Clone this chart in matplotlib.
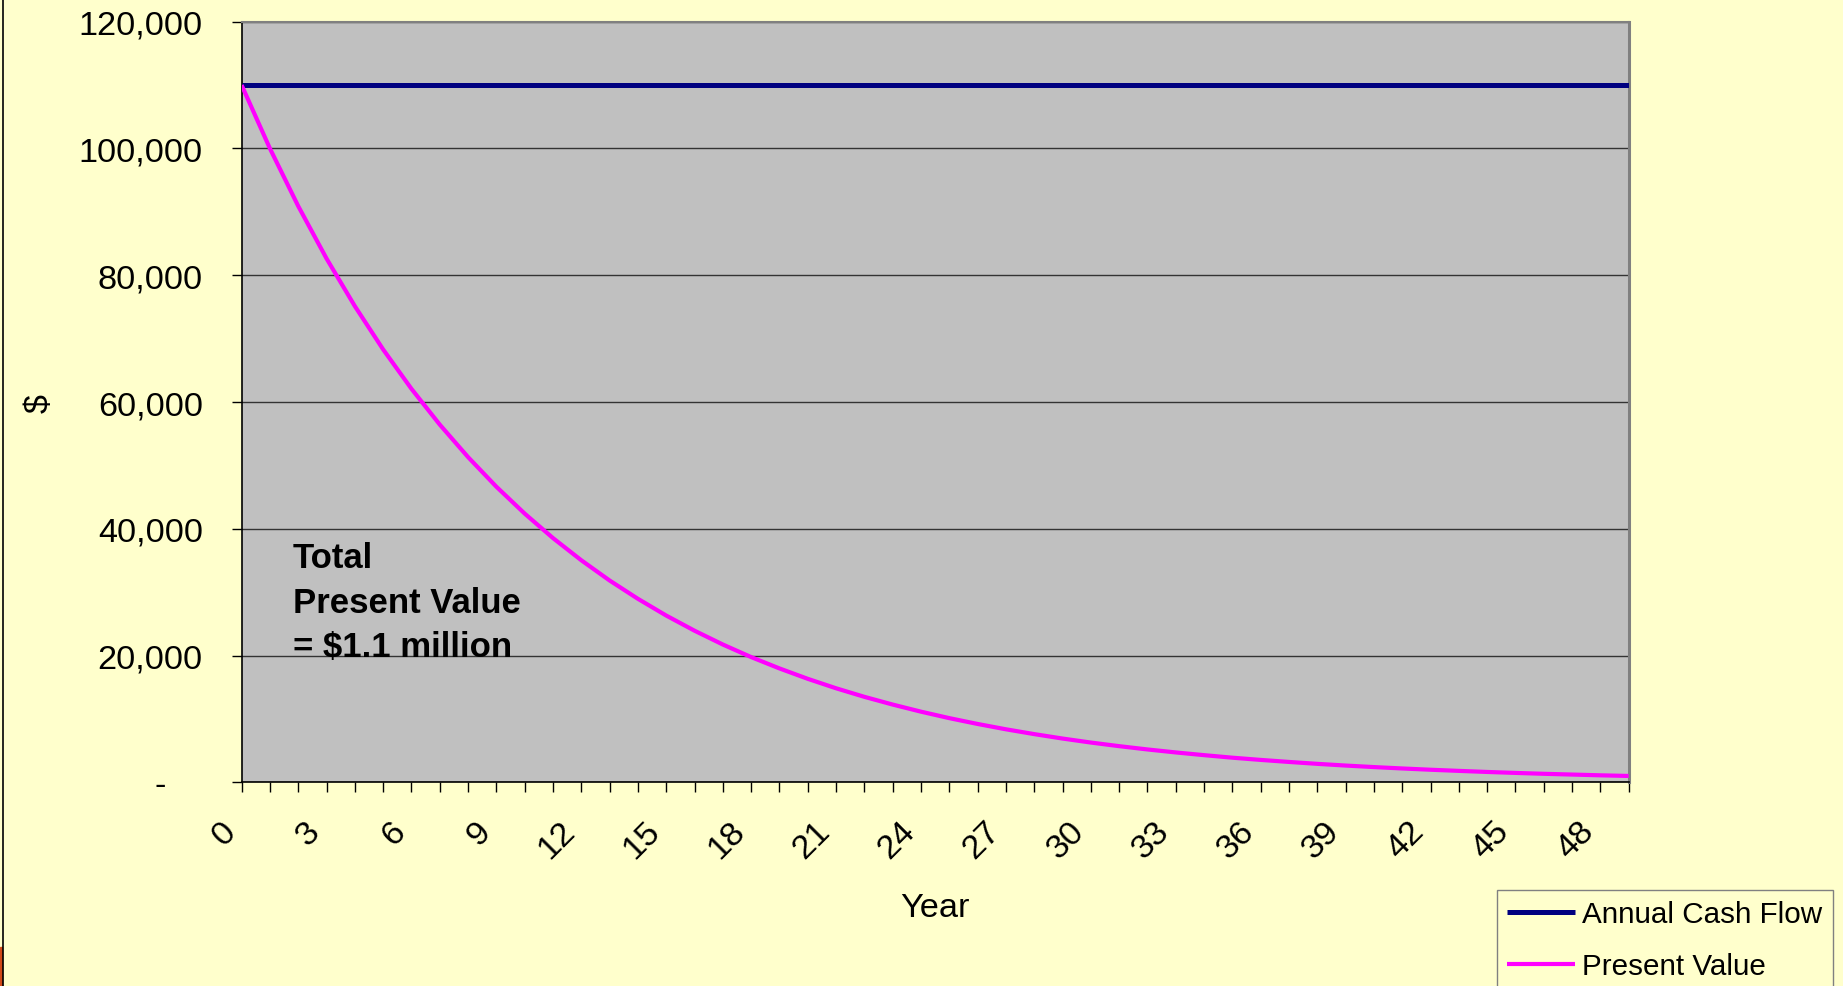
import matplotlib
matplotlib.use("Agg")
import matplotlib.pyplot as plt
from matplotlib.lines import Line2D
from matplotlib.patches import Rectangle
from matplotlib.ticker import FuncFormatter
from matplotlib.transforms import ScaledTranslation

plt.rcParams["font.family"] = ["Liberation Sans", "DejaVu Sans"]

# Year index 0..49
years = list(range(50))

# Constant yearly cash flow ($)
annual_cash_flow = [
    110000, 110000, 110000, 110000, 110000, 110000, 110000, 110000, 110000, 110000,
    110000, 110000, 110000, 110000, 110000, 110000, 110000, 110000, 110000, 110000,
    110000, 110000, 110000, 110000, 110000, 110000, 110000, 110000, 110000, 110000,
    110000, 110000, 110000, 110000, 110000, 110000, 110000, 110000, 110000, 110000,
    110000, 110000, 110000, 110000, 110000, 110000, 110000, 110000, 110000, 110000,
]

# Discounted value of each year's cash flow ($)
present_value = [
    110000, 100000, 90910, 82640, 75130, 68300, 62090, 56450, 51320, 46650,
    42410, 38550, 35050, 31860, 28970, 26330, 23940, 21760, 19780, 17990,
    16350, 14860, 13510, 12290, 11170, 10150, 9230, 8390, 7630, 6930,
    6300, 5730, 5210, 4740, 4310, 3910, 3560, 3240, 2940, 2670,
    2430, 2210, 2010, 1830, 1660, 1510, 1370, 1250, 1130, 1030,
]

y_ticks = [0, 20000, 40000, 60000, 80000, 100000, 120000]
label_every = 3

BG = "#FFFFCC"
PLOT_BG = "#C0C0C0"
NAVY = "#000080"
MAGENTA = "#FF00FF"
FS = 24.7

fig = plt.figure(figsize=(18.43, 9.87), dpi=100, facecolor=BG)
ax = fig.add_axes([0.1311, 0.2062, 0.8837 - 0.1311, 0.9770 - 0.2062])
ax.set_facecolor(PLOT_BG)

cash_line, = ax.plot(years, annual_cash_flow, color=NAVY, lw=3.6,
                     solid_capstyle="butt", zorder=3)
pv_line, = ax.plot(years, present_value, color=MAGENTA, lw=3.0,
                   solid_capstyle="butt", zorder=3)

ax.set_xlim(years[0], years[-1])
ax.set_ylim(y_ticks[0], y_ticks[-1])

# y axis: thousands separators, zero shown as an accounting dash
ax.set_yticks(y_ticks)
ax.yaxis.set_major_formatter(FuncFormatter(lambda v, p: f"{v:,.0f}" if v else ""))
ax.annotate("-", xy=(0, 0), xycoords=("axes fraction", "data"),
            xytext=(-54.5, 0), textcoords="offset points",
            ha="right", va="center_baseline", fontsize=FS)
ax.yaxis.grid(True, color="#333333", lw=1.0)
ax.set_axisbelow(True)

# x axis: a tick every year, a label every third year
ax.set_xticks(years)
ax.set_xticklabels([str(y) if y % label_every == 0 else "" for y in years],
                   rotation=45, ha="right", va="top")
shift = ScaledTranslation(-12 / 100, 0, fig.dpi_scale_trans)
for lab in ax.get_xticklabels():
    lab.set_transform(lab.get_transform() + shift)

ax.tick_params(axis="both", direction="out", length=7.2, width=1.0,
               color="black", labelsize=FS)
ax.tick_params(axis="y", pad=20.7)
ax.tick_params(axis="x", pad=16.5)

for side in ("left", "bottom"):
    ax.spines[side].set_color("black")
    ax.spines[side].set_linewidth(1.2)
ax.spines["top"].set_color("#808080")
ax.spines["top"].set_linewidth(1.5)
ax.spines["right"].set_color("#808080")
ax.spines["right"].set_linewidth(2.2)

ax.set_xlabel("Year", fontsize=FS)
ax.xaxis.set_label_coords(0.5, -0.1446)
ax.set_ylabel("$", fontsize=FS, va="center")
ax.yaxis.set_label_coords(-0.146, 0.5)

ax.text(0.037, 0.318, "Total\nPresent Value\n= $1.1 million",
        transform=ax.transAxes, ha="left", va="top",
        fontsize=25, fontweight="bold", linespacing=1.46)

fig.legend(handles=[cash_line, pv_line],
           labels=["Annual Cash Flow", "Present Value"],
           loc="upper left", bbox_to_anchor=(1497 / 1843, 1 - 890.7 / 987),
           bbox_transform=fig.transFigure, borderaxespad=0,
           fontsize=21.3, handlelength=2.3, handletextpad=0.24,
           borderpad=0.35, labelspacing=0.82, fancybox=False,
           framealpha=1, facecolor=BG, edgecolor="#808080")

# slide edge on the left
fig.add_artist(Line2D([2.5 / 1843, 2.5 / 1843], [0, 1], color="black",
                      lw=1.2, transform=fig.transFigure))
fig.add_artist(Rectangle((0, 0), 2.2 / 1843, 39 / 987, color="#D04A1A",
                         transform=fig.transFigure))

fig.savefig("out.png", dpi=100, facecolor=BG)
